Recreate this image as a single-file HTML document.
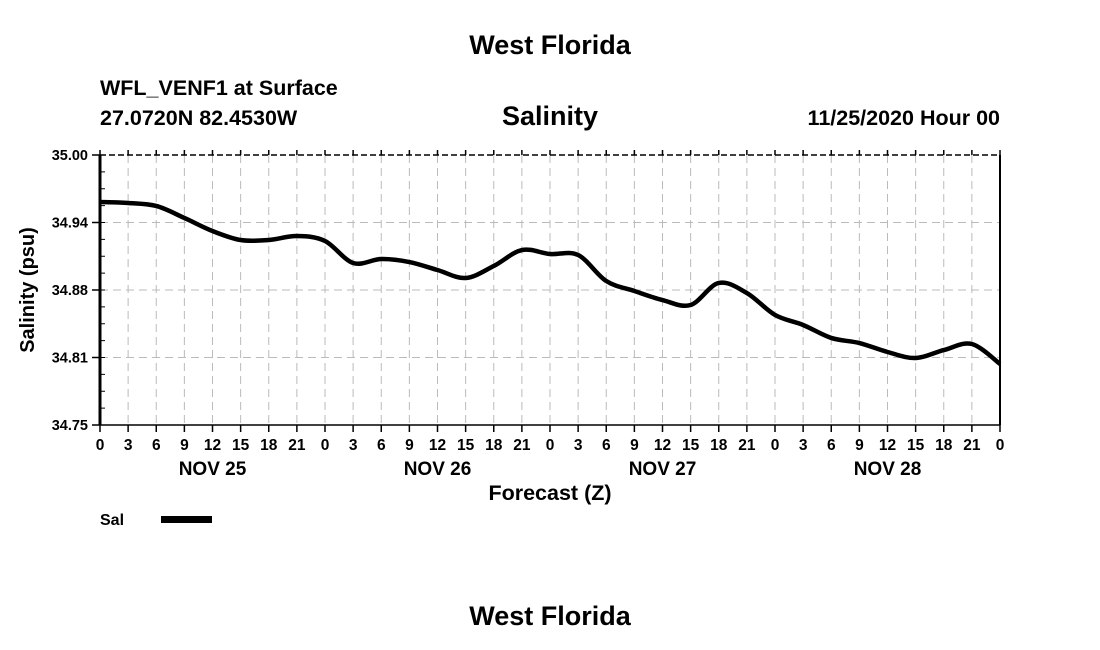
<!DOCTYPE html>
<html><head><meta charset="utf-8"><style>
body{margin:0;background:#fff;}
svg{display:block;font-family:"Liberation Sans",sans-serif;font-weight:bold;}
</style></head><body>
<svg id="chart" width="1100" height="650">
<text x="550" y="54" text-anchor="middle" font-size="27">West Florida</text>
<text x="100" y="95" font-size="21.5">WFL_VENF1 at Surface</text>
<text x="100" y="125" font-size="21.5">27.0720N 82.4530W</text>
<text x="550" y="125" text-anchor="middle" font-size="27">Salinity</text>
<text x="1000" y="125" text-anchor="end" font-size="21.5">11/25/2020 Hour 00</text>
<g id="grid"></g>
<g id="axes"></g>
<path id="line" fill="none" stroke="#000" stroke-width="4.5"/>
<text x="34" y="290" transform="rotate(-90 34 290)" text-anchor="middle" font-size="20">Salinity (psu)</text>
<text x="550" y="500" text-anchor="middle" font-size="21.5">Forecast (Z)</text>
<text x="100" y="525" font-size="16">Sal</text>
<rect x="161" y="516" width="51" height="7" fill="#000"/>
<text x="550" y="625" text-anchor="middle" font-size="27">West Florida</text>
</svg>
<script>
const hours=[0,3,6,9,12,15,18,21,24,27,30,33,36,39,42,45,48,51,54,57,60,63,66,69,72,75,78,81,84,87,90,93,96];
const salinity=[34.9565,34.9556,34.9528,34.9417,34.9296,34.9213,34.9213,34.925,34.9204,34.9,34.9037,34.9009,34.8935,34.8861,34.8972,34.912,34.9083,34.9074,34.8833,34.8741,34.8657,34.8611,34.8815,34.8722,34.8519,34.8426,34.8306,34.8259,34.8176,34.812,34.8194,34.825,34.8065];
const yTicks=[35.0,34.9375,34.875,34.8125,34.75];
const yTickLabels=["35.00","34.94","34.88","34.81","34.75"];
const dayLabels=["NOV 25","NOV 26","NOV 27","NOV 28"];
const X0=100,X1=1000,Y0=155,Y1=425,HMAX=96,VMIN=34.75,VMAX=35.0;
const xs=h=>X0+(h/HMAX)*(X1-X0);
const ys=v=>Y0+(VMAX-v)/(VMAX-VMIN)*(Y1-Y0);
const NS="http://www.w3.org/2000/svg";
function mk(tag,attrs,parent){const e=document.createElementNS(NS,tag);for(const k in attrs)e.setAttribute(k,attrs[k]);parent.appendChild(e);return e;}
const grid=document.getElementById('grid'),axes=document.getElementById('axes');
for(let h=3;h<HMAX;h+=3){
 const l=mk('line',{x1:xs(h),x2:xs(h),y1:Y0,y2:Y1,stroke:'#bbb','stroke-width':1,'stroke-dasharray':'8,5'},grid);
 
 
}
yTicks.forEach((v,i)=>{
 if(i>0&&i<yTicks.length-1){
  const l=mk('line',{x1:X0,x2:X1,y1:ys(v),y2:ys(v),stroke:'#bbb','stroke-width':1,'stroke-dasharray':'8,5'},grid);
  
  
 }
 const t=mk('line',{x1:X0-8,x2:X0,y1:ys(v),y2:ys(v),stroke:'#000','stroke-width':1.5},axes);
 
 
 const tx=mk('text',{x:X0-12,y:ys(v)+5,'text-anchor':'end','font-size':14.5},axes);
 tx.textContent=yTickLabels[i];
 
 
});
for(let k=1;k<16;k++){
 const y=Y0+k*(Y1-Y0)/16;
 const t=mk('line',{x1:X0,x2:X0+5,y1:y,y2:y,stroke:'#000','stroke-width':1},axes);
 
 
}
for(let h=0;h<=HMAX;h+=3){
 const t=mk('line',{x1:xs(h),x2:xs(h),y1:Y1,y2:Y1+7,stroke:'#000','stroke-width':1.5},axes);
 
 
 const t2=mk('line',{x1:xs(h),x2:xs(h),y1:Y0-5,y2:Y0,stroke:'#000','stroke-width':1.5},axes);
 
 
 const tx=mk('text',{x:xs(h),y:Y1+25,'text-anchor':'middle','font-size':15.5},axes);
 tx.textContent=String(h%24);
 
 
}
dayLabels.forEach((d,i)=>{
 const tx=mk('text',{x:xs(i*24+12),y:Y1+50,'text-anchor':'middle','font-size':19},axes);
 tx.textContent=d;
 
 
});
const topBorder=mk('line',{x1:X0,x2:X1,y1:Y0,y2:Y0,stroke:'#000','stroke-width':1.5,'stroke-dasharray':'6,3'},axes);


const bot=mk('line',{x1:X0,x2:X1,y1:Y1,y2:Y1,stroke:'#000','stroke-width':1.5},axes);


const lft=mk('line',{x1:X0,x2:X0,y1:Y0,y2:Y1,stroke:'#000','stroke-width':3},axes);


const rgt=mk('line',{x1:X1,x2:X1,y1:Y0,y2:Y1,stroke:'#000','stroke-width':2},axes);


const P=hours.map((h,i)=>[xs(h),ys(salinity[i])]);
let d='M'+P[0][0]+','+P[0][1];
for(let i=0;i<P.length-1;i++){
 const p0=P[Math.max(0,i-1)],p1=P[i],p2=P[i+1],p3=P[Math.min(P.length-1,i+2)];
 const c1=[p1[0]+(p2[0]-p0[0])/6,p1[1]+(p2[1]-p0[1])/6];
 const c2=[p2[0]-(p3[0]-p1[0])/6,p2[1]-(p3[1]-p1[1])/6];
 d+=' C'+c1[0]+','+c1[1]+' '+c2[0]+','+c2[1]+' '+p2[0]+','+p2[1];
}
document.getElementById('line').setAttribute('d',d);
</script>
</body></html>
